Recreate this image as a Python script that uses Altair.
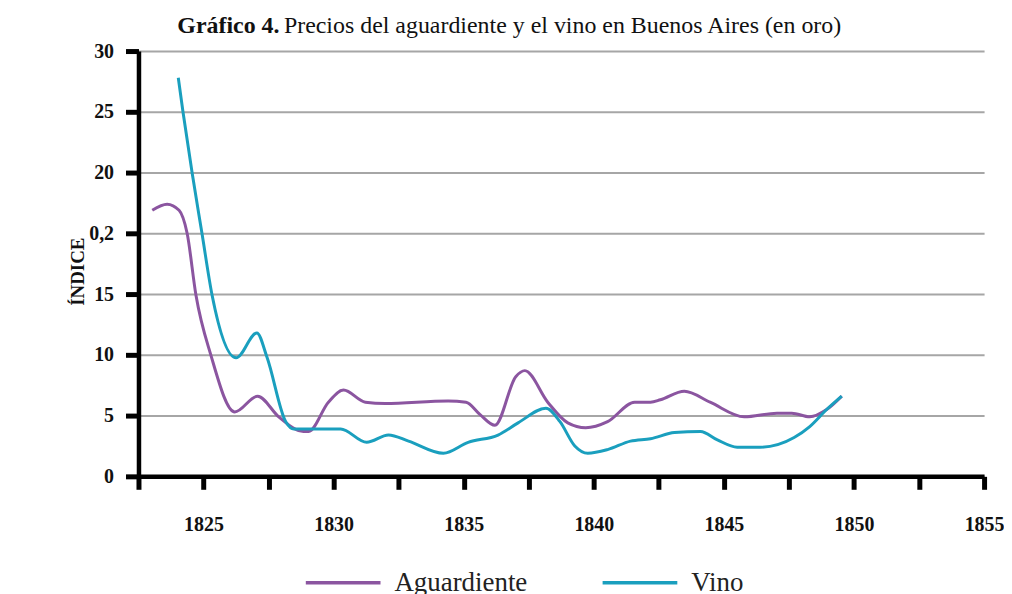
import altair as alt
import pandas as pd

# Aguardiente (purple) — year, index value in axis units (0..35 linear slots)
agu_year = [1823.03, 1823.60, 1824.06, 1824.37, 1824.71, 1825.28, 1826.20, 1827.08, 1827.89,
            1828.84, 1829.04, 1829.80, 1830.38, 1831.22, 1831.98, 1834.40, 1835.09, 1835.62,
            1836.20, 1837.00, 1837.35, 1838.23, 1839.00, 1839.69, 1840.53, 1841.57, 1842.18,
            1842.56, 1843.48, 1844.47, 1845.78, 1847.04, 1847.61, 1848.30, 1848.95, 1849.53]
agu_val = [21.9, 22.4, 21.9, 20.0, 14.9, 10.0, 5.3, 6.6, 4.9,
           3.7, 3.7, 6.1, 7.1, 6.1, 6.0, 6.2, 6.1, 5.1,
           4.2, 8.2, 8.7, 6.1, 4.4, 4.0, 4.5, 6.1, 6.1,
           6.3, 7.0, 6.1, 4.9, 5.2, 5.2, 4.9, 5.5, 6.6]

# Vino (teal)
vino_year = [1824.03, 1824.21, 1824.56, 1824.94, 1825.33, 1826.25, 1827.05, 1827.44,
             1828.16, 1828.47, 1830.27, 1831.27, 1832.11, 1832.88, 1834.22, 1835.17, 1836.32,
             1837.09, 1838.16, 1838.70, 1839.27, 1839.77, 1840.53, 1841.41, 1842.18, 1843.10,
             1844.10, 1844.75, 1845.51, 1846.39, 1847.70, 1848.30, 1848.95, 1849.53]
vino_val = [32.8, 30.0, 25.0, 20.0, 14.9, 9.75, 11.8, 9.8,
            4.5, 3.9, 3.9, 2.8, 3.4, 2.9, 1.9, 2.8, 3.4,
            4.4, 5.6, 4.5, 2.5, 1.9, 2.2, 2.9, 3.1, 3.6,
            3.7, 3.0, 2.4, 2.4, 3.2, 4.1, 5.5, 6.6]

series_names = ["Aguardiente", "Vino"]
series_colors = ["#8b55a0", "#1a9fbe"]

x_tick_values = [1822.5, 1825, 1827.5, 1830, 1832.5, 1835, 1837.5, 1840, 1842.5,
                 1845, 1847.5, 1850, 1852.5, 1855]
y_tick_values = [0, 5, 10, 15, 20, 25, 30, 35]
y_tick_labels = ["0", "5", "10", "15", "0,2", "20", "25", "30"]

title_bold = "Gráfico 4."
title_rest = "Precios del aguardiente y el vino en Buenos Aires (en oro)"
y_title = "ÍNDICE"

rows = []
for y, v in zip(agu_year, agu_val):
    rows.append({"year": y, "value": v, "serie": series_names[0]})
for y, v in zip(vino_year, vino_val):
    rows.append({"year": y, "value": v, "serie": series_names[1]})
df = pd.DataFrame(rows)

label_map = "{" + ",".join(f"'{v}':'{l}'" for v, l in zip(y_tick_values, y_tick_labels)) + "}"
y_label_expr = f"{label_map}['' + datum.value]"

serif = "Liberation Serif"

lines = alt.Chart(df).mark_line(interpolate="monotone", strokeWidth=3).encode(
    x=alt.X("year:Q",
            scale=alt.Scale(domain=[1822.5, 1855], nice=False, zero=False),
            axis=alt.Axis(values=x_tick_values, grid=False, title=None,
                          labelExpr="datum.value % 5 === 0 ? format(datum.value, 'd') : ''",
                          domainColor="black", domainWidth=4.5,
                          tickColor="black", tickWidth=5, tickSize=13,
                          labelFont=serif, labelFontSize=20, labelFontWeight="bold",
                          labelColor="#111", labelPadding=25, labelFlush=False,
                          labelOverlap=False)),
    y=alt.Y("value:Q",
            scale=alt.Scale(domain=[0, 35], nice=False),
            axis=alt.Axis(values=y_tick_values, labelExpr=y_label_expr,
                          grid=True, gridColor="#a6a6a6", gridWidth=2,
                          domainColor="black", domainWidth=4.5,
                          tickColor="black", tickWidth=5, tickSize=13,
                          labelFont=serif, labelFontSize=20, labelFontWeight="bold",
                          labelColor="#111", labelPadding=12,
                          title=y_title, titleFont=serif, titleFontSize=19,
                          titleFontWeight="bold", titleColor="#111",
                          titleX=-51, titleY=221, titleAngle=-90)),
    color=alt.Color("serie:N",
                    scale=alt.Scale(domain=series_names, range=series_colors),
                    legend=alt.Legend(title=None, orient="none", direction="horizontal",
                                      legendX=166, legendY=494,
                                      symbolType="stroke", symbolSize=5625,
                                      symbolStrokeWidth=3.5, labelFont=serif,
                                      labelFontSize=27, labelColor="#222",
                                      labelOffset=12, columnPadding=68,
                                      labelLimit=300)),
    order=alt.Order("year:Q"),
)

t1 = alt.Chart(pd.DataFrame({"t": [title_bold]})).mark_text(
    font=serif, fontSize=24, fontWeight="bold", align="left", baseline="alphabetic",
    color="#111").encode(text="t:N", x=alt.value(39), y=alt.value(-18))
t2 = alt.Chart(pd.DataFrame({"t": [title_rest]})).mark_text(
    font=serif, fontSize=24, align="left", baseline="alphabetic",
    color="#111").encode(text="t:N", x=alt.value(146), y=alt.value(-18))

chart = alt.layer(lines, t1, t2).properties(
    width=849, height=427,
    padding={"left": 131, "top": 42, "right": 20, "bottom": 140},
    autosize=alt.AutoSizeParams(type="none"),
).configure_view(strokeWidth=0)

chart.save("out.html", embed_options={"renderer": "svg", "actions": False})
